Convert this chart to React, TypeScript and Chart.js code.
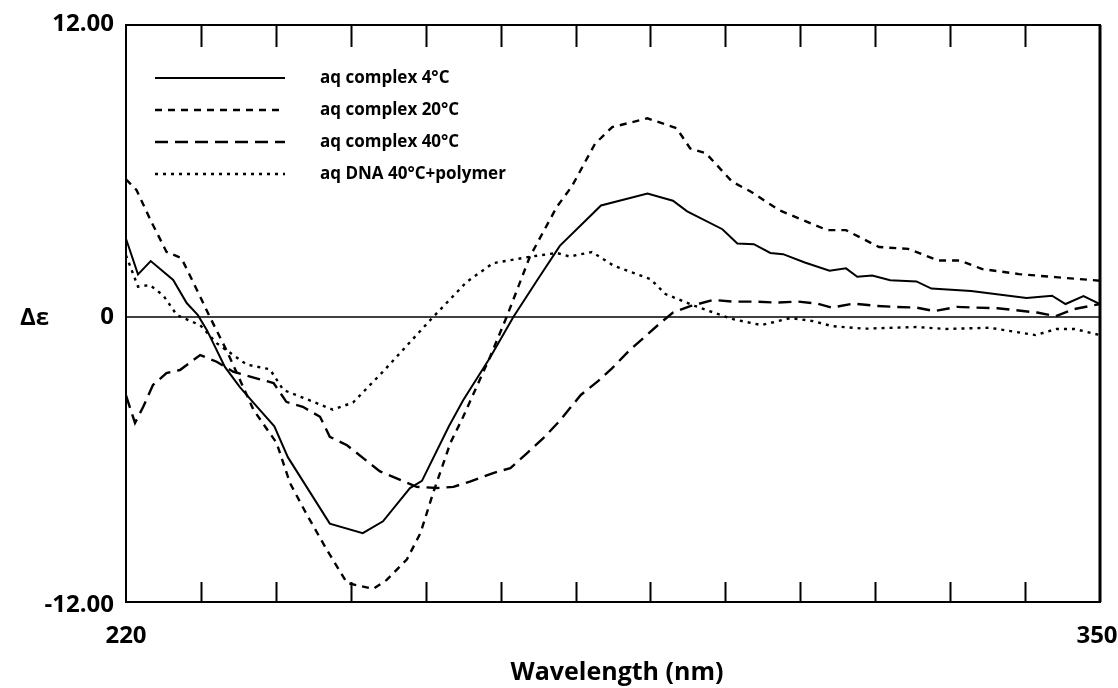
import React, { useEffect, useRef } from 'react';
import { Chart, registerables } from 'chart.js';

Chart.register(...registerables);

// ---- data ----
const seriesLabels = ['aq complex 4°C', 'aq complex 20°C', 'aq complex 40°C', 'aq DNA 40°C+polymer'];

const wl4 = [220, 221.6, 223.3, 226.3, 228.1, 229.6, 230.8, 233.2, 235.2, 237, 239.8, 241.6, 243.6, 247.2, 251.6, 254.3, 257.9, 259.5, 263.1, 265, 268.6, 271.7, 274.9, 277.9, 283.4, 289.6, 293, 294.9, 299.6, 301.6, 303.8, 306, 307.7, 310.6, 313.9, 316.1, 317.6, 319.6, 322, 325.5, 327.5, 332.8, 340.2, 343.6, 345.4, 347.8, 350];
const de4 = [3.3, 1.8, 2.36, 1.56, 0.59, 0.08, -0.55, -2.1, -2.95, -3.6, -4.6, -5.9, -6.9, -8.7, -9.1, -8.6, -7.2, -6.9, -4.6, -3.5, -1.7, 0, 1.56, 3.0, 4.7, 5.2, 4.9, 4.45, 3.7, 3.1, 3.07, 2.7, 2.65, 2.3, 1.95, 2.05, 1.7, 1.75, 1.55, 1.5, 1.2, 1.1, 0.8, 0.9, 0.55, 0.88, 0.55];

const wl20 = [220, 221.4, 223.4, 225.4, 227.4, 229.9, 231.2, 233.4, 234.8, 237, 240.1, 241.9, 244.1, 246.8, 249.5, 253, 254.8, 257.5, 259.3, 261, 263.3, 265, 268.6, 270.8, 273.9, 277.5, 279.5, 282.6, 284.9, 289.6, 293.5, 295.3, 297.4, 300.9, 303.3, 307.2, 313.6, 316.1, 320.5, 324.4, 328.4, 331.3, 334.3, 339.2, 344.1, 350];
const de20 = [5.8, 5.35, 4.0, 2.75, 2.48, 0.86, 0, -1.39, -2.36, -3.9, -5.3, -7.0, -8.3, -9.8, -11.2, -11.45, -11.07, -10.2, -9.1, -7.4, -5.3, -4.2, -1.67, 0, 2.54, 4.64, 5.5, 7.3, 8.0, 8.37, 7.95, 7.1, 6.9, 5.7, 5.3, 4.5, 3.66, 3.66, 2.95, 2.87, 2.38, 2.38, 2.02, 1.81, 1.68, 1.53];

const wl40 = [220, 221.2, 222.3, 223.6, 225.4, 227.2, 229.9, 232.1, 234.3, 237.4, 239.7, 241.4, 243.6, 245.9, 247.2, 249.5, 251.7, 253.9, 256.6, 258.8, 261.5, 263.7, 265.9, 269, 271.3, 273.5, 275.7, 277.8, 280.7, 283, 284.9, 287.1, 289.1, 291.1, 293, 295.4, 298.4, 300.9, 303.8, 306.8, 309.7, 312.2, 314.2, 317.1, 320.1, 322.5, 325.5, 327.9, 330.9, 333.2, 336.3, 338.7, 341.6, 344.1, 346.6, 350];
const de40 = [-3.3, -4.46, -3.78, -2.86, -2.36, -2.23, -1.6, -1.88, -2.3, -2.58, -2.78, -3.57, -3.78, -4.2, -5.04, -5.4, -5.95, -6.5, -6.86, -7.15, -7.2, -7.15, -6.93, -6.57, -6.36, -5.74, -5.1, -4.4, -3.28, -2.7, -2.15, -1.43, -0.87, -0.31, 0.19, 0.47, 0.72, 0.65, 0.65, 0.61, 0.65, 0.57, 0.4, 0.57, 0.47, 0.43, 0.4, 0.25, 0.43, 0.4, 0.37, 0.29, 0.19, 0.04, 0.34, 0.55];

const wlDna = [220, 221.6, 223.2, 225, 226.8, 229.9, 232.1, 236.1, 239.2, 241, 245, 247.6, 250.3, 254.3, 260.6, 265.5, 269, 273.9, 277.5, 279.2, 282.2, 285.1, 290, 292, 295.9, 300.9, 304.8, 308.7, 311.7, 314.2, 318.6, 325.5, 329.4, 335.3, 341.4, 344.2, 346.6, 350];
const deDna = [2.6, 1.28, 1.35, 0.9, 0.08, -0.34, -1.1, -2.0, -2.2, -3.07, -3.57, -3.9, -3.6, -2.3, -0.13, 1.49, 2.27, 2.54, 2.7, 2.55, 2.74, 2.16, 1.6, 0.97, 0.47, -0.08, -0.34, -0.04, -0.17, -0.38, -0.49, -0.42, -0.5, -0.45, -0.76, -0.5, -0.5, -0.76];

const xMin = 220;
const xMax = 350;
const yMin = -12;
const yMax = 12.3; // top of the drawn frame sits slightly above the 12.00 mark
const xTickValues = [230, 240, 250, 260, 270, 280, 290, 300, 310, 320, 330, 340];
const xLabelValues = [220, 350];
const xLabelTexts = ['220', '350'];
const yLabelValues = [12, 0, -12];
const yLabelTexts = ['12.00', '0', '-12.00'];
const yAxisTitle = 'Δε';
const xAxisTitle = 'Wavelength (nm)';

const FONT = '"Open Sans", "Noto Sans", "DejaVu Sans", sans-serif';

const toPoints = (xs: number[], ys: number[]) => xs.map((x, i) => ({ x, y: ys[i] }));

const framePlugin = {
  id: 'cdFrame',
  beforeDatasetsDraw(chart: any) {
    const { ctx, chartArea: a, scales } = chart;
    const y0 = scales.y.getPixelForValue(0);
    ctx.save();
    ctx.strokeStyle = '#000';
    ctx.lineWidth = 1.6;
    ctx.setLineDash([]);
    ctx.beginPath();
    ctx.moveTo(a.left, y0);
    ctx.lineTo(a.right, y0);
    ctx.stroke();
    ctx.restore();
  },
  afterDraw(chart: any) {
    const { ctx, chartArea: a, scales } = chart;
    const sx = scales.x;
    const sy = scales.y;
    ctx.save();
    ctx.setLineDash([]);
    ctx.strokeStyle = '#000';
    // frame
    ctx.lineWidth = 2;
    ctx.strokeRect(a.left, a.top, a.right - a.left, a.bottom - a.top);
    ctx.lineWidth = 3;
    ctx.beginPath();
    ctx.moveTo(a.right, a.top);
    ctx.lineTo(a.right, a.bottom);
    ctx.stroke();
    // inward ticks top & bottom
    ctx.lineWidth = 2;
    xTickValues.forEach((v) => {
      const px = Math.round(sx.getPixelForValue(v)) + 0.5;
      ctx.beginPath();
      ctx.moveTo(px, a.top);
      ctx.lineTo(px, a.top + 22);
      ctx.moveTo(px, a.bottom);
      ctx.lineTo(px, a.bottom - 20);
      ctx.stroke();
    });
    // y labels
    ctx.fillStyle = '#000';
    ctx.font = `bold 24px ${FONT}`;
    ctx.textAlign = 'right';
    ctx.textBaseline = 'middle';
    yLabelValues.forEach((v, i) => {
      let py = sy.getPixelForValue(v);
      if (v === 12) py = a.top - 1;
      if (v === yMin) py += 3;
      ctx.fillText(yLabelTexts[i], a.left - 12, py);
    });
    // x labels
    ctx.textAlign = 'center';
    xLabelValues.forEach((v, i) => {
      const px = sx.getPixelForValue(v) + (v === xMax ? -3 : 0);
      ctx.fillText(xLabelTexts[i], px, a.bottom + 34);
    });
    // axis titles
    ctx.textAlign = 'left';
    ctx.fillText(yAxisTitle, 20, sy.getPixelForValue(0) + 1);
    ctx.textAlign = 'center';
    ctx.font = `bold 25px ${FONT}`;
    ctx.fillText(xAxisTitle, (a.left + a.right) / 2 + 4, a.bottom + 71);
    // legend inside the plot
    const rows = [78, 110, 142, 174];
    ctx.font = `bold 17px ${FONT}`;
    ctx.textAlign = 'left';
    chart.data.datasets.forEach((ds: any, i: number) => {
      const ry = rows[i];
      ctx.lineWidth = ds.borderWidth;
      ctx.setLineDash(ds.borderDash || []);
      ctx.beginPath();
      ctx.moveTo(a.left + 29, ry);
      ctx.lineTo(a.left + 159, ry);
      ctx.stroke();
      ctx.setLineDash([]);
      ctx.fillText(ds.label, a.left + 194, ry);
    });
    ctx.restore();
  },
};

export default function App() {
  const ref = useRef<HTMLCanvasElement | null>(null);
  useEffect(() => {
    document.body.style.margin = '0';
    if (!ref.current) return;
    const mk = (label: string, xs: number[], ys: number[], dash: number[], width: number) => ({
      label,
      data: toPoints(xs, ys),
      borderColor: '#000',
      backgroundColor: '#000',
      borderWidth: width,
      borderDash: dash,
      pointRadius: 0,
      tension: 0,
      fill: false,
    });
    const chart = new Chart(ref.current, {
      type: 'line',
      data: {
        datasets: [
          mk(seriesLabels[0], wl4, de4, [], 2),
          mk(seriesLabels[1], wl20, de20, [7, 6], 2.4),
          mk(seriesLabels[2], wl40, de40, [13, 7], 2.4),
          mk(seriesLabels[3], wlDna, deDna, [3, 5], 2.4),
        ],
      },
      options: {
        animation: false,
        responsive: false,
        maintainAspectRatio: false,
        devicePixelRatio: 1,
        layout: { padding: { left: 126, top: 25, right: 18, bottom: 86 } },
        plugins: { legend: { display: false }, tooltip: { enabled: false } },
        scales: {
          x: { type: 'linear', min: xMin, max: xMax, display: false },
          y: { type: 'linear', min: yMin, max: yMax, display: false },
        },
      },
      plugins: [framePlugin],
    });
    return () => chart.destroy();
  }, []);
  return (
    <div style={{ position: 'absolute', left: 0, top: 0, width: 1118, height: 688, background: '#fff' }}>
      <canvas ref={ref} width={1118} height={688} />
    </div>
  );
}
